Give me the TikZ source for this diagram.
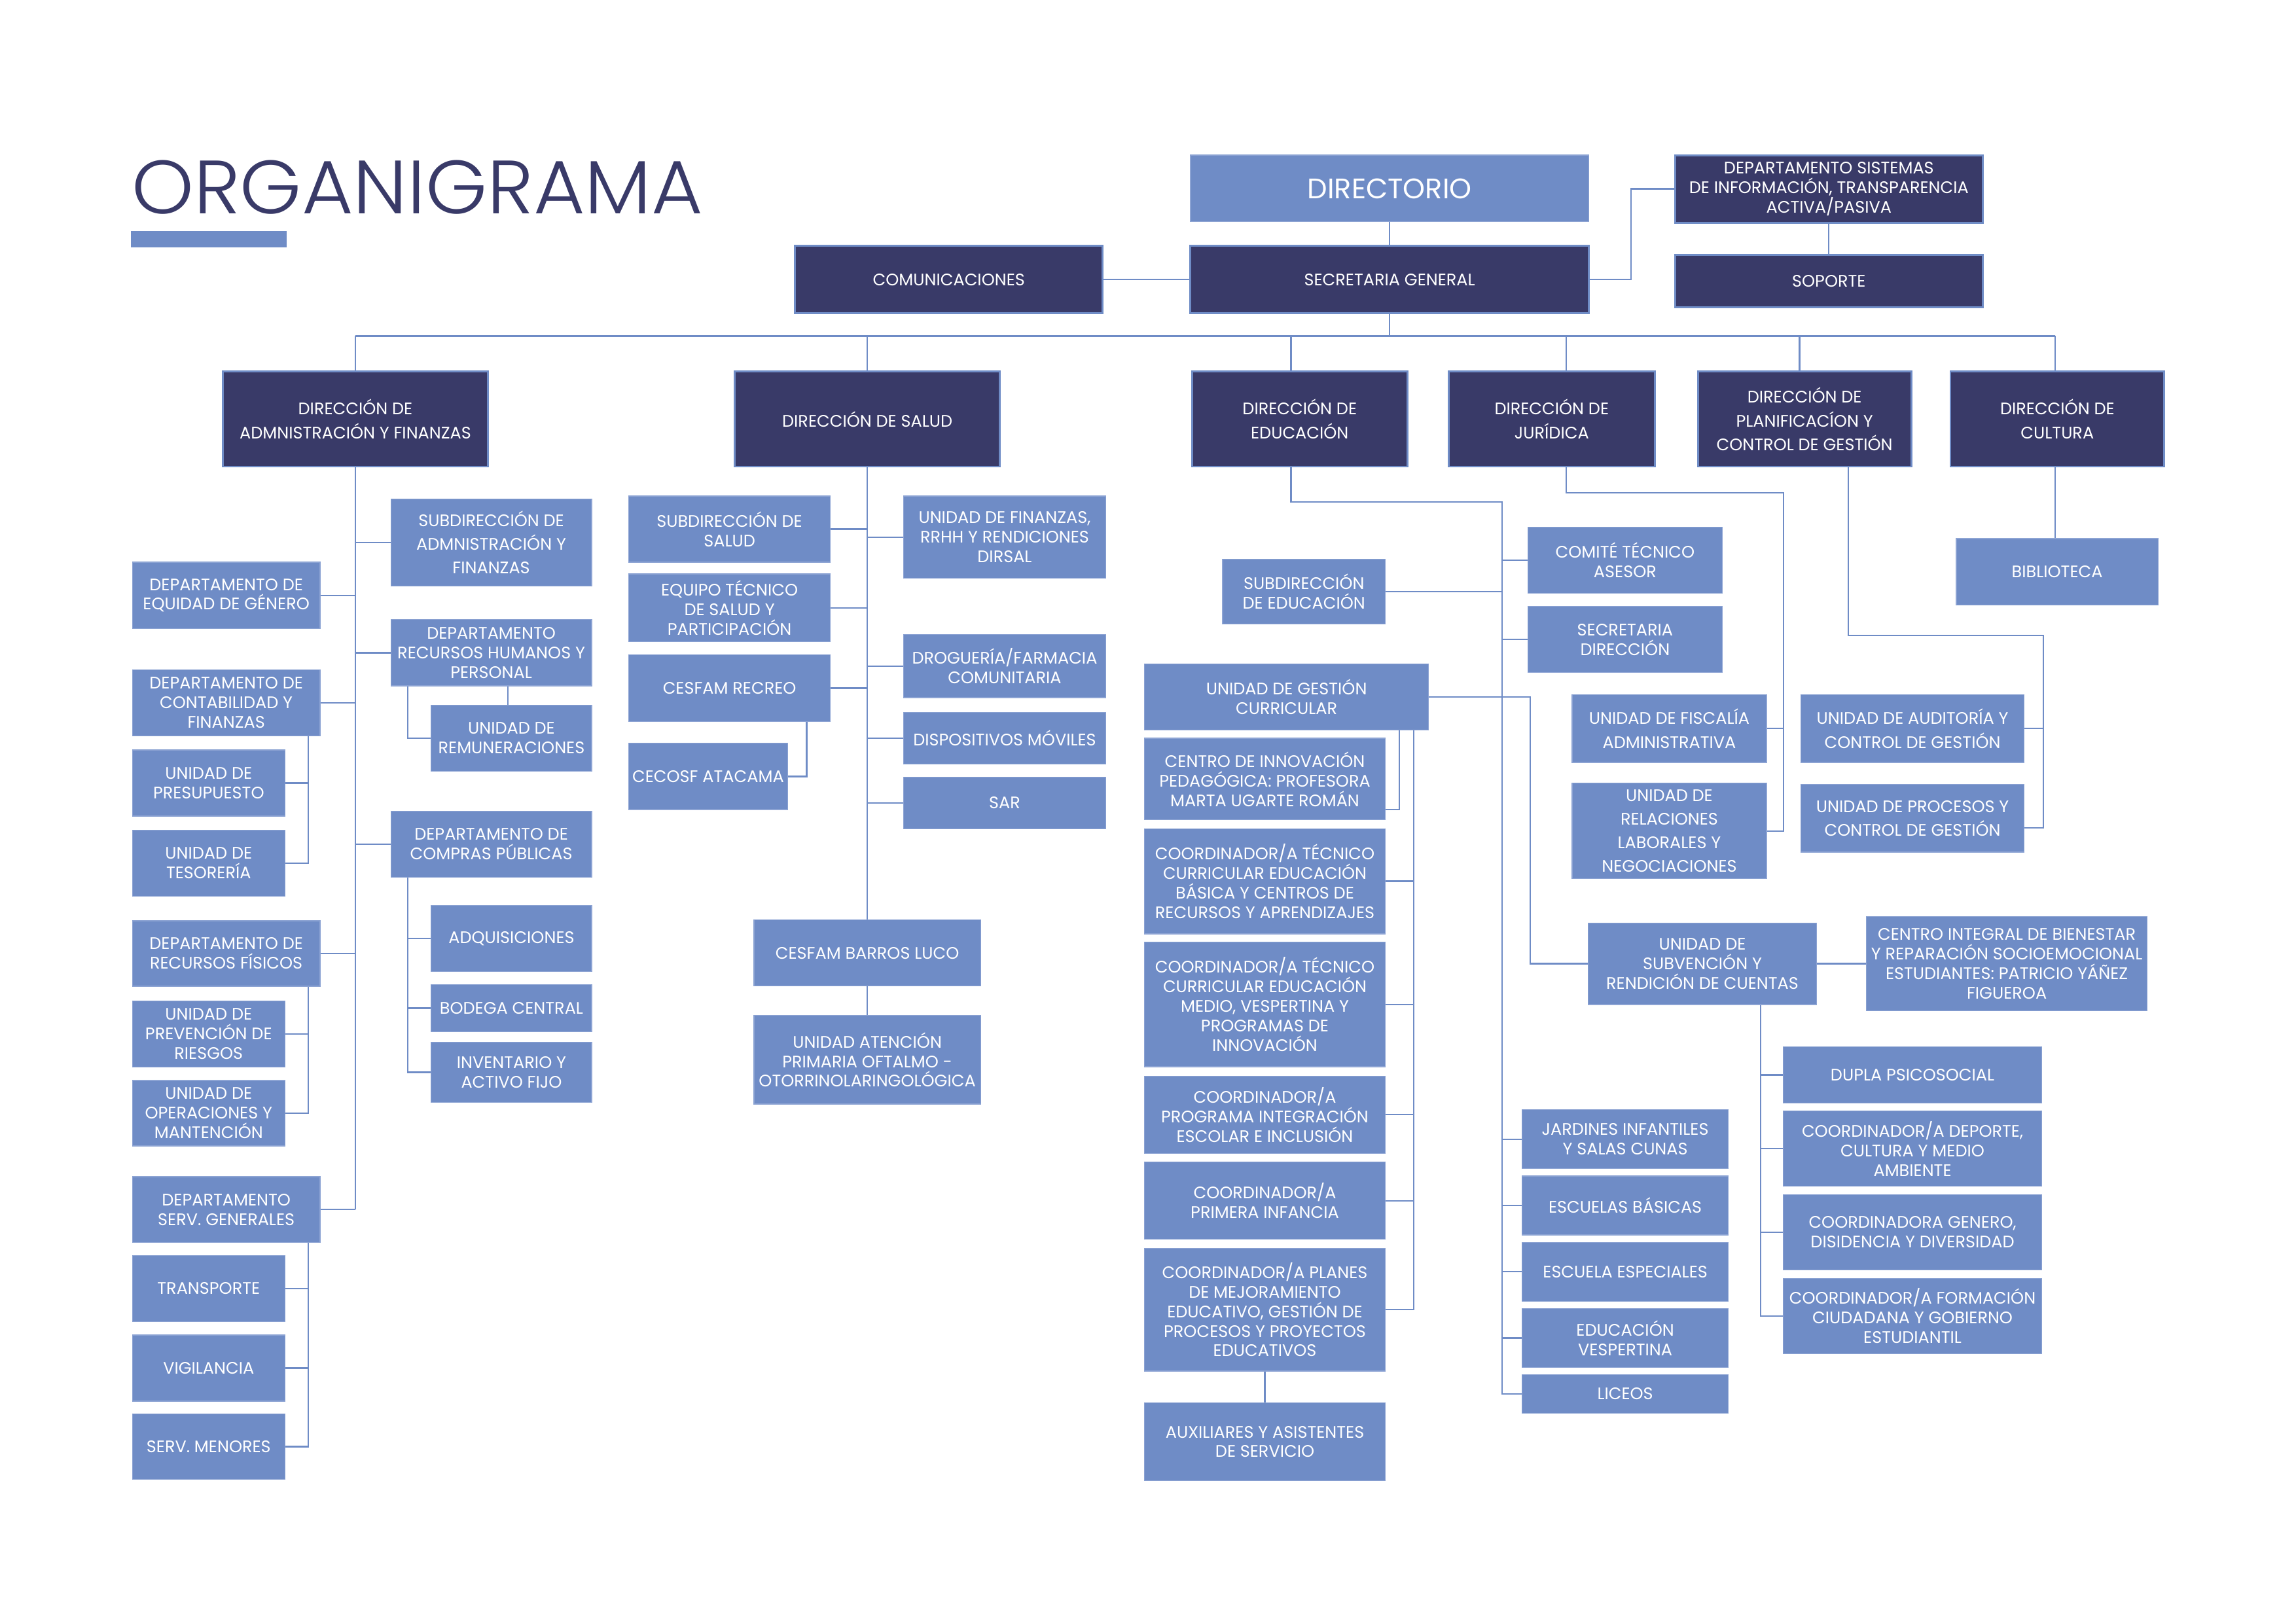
\documentclass[tikz,border=0pt]{standalone}
\usepackage{fontspec}
\setmainfont{Poppins}
\newfontfamily\orgtitlefont{Poppins Light}
\usetikzlibrary{calc}
\definecolor{navy}{HTML}{393A68}
\definecolor{lb}{HTML}{6F8CC6}
\definecolor{lbline}{HTML}{8CA3D3}
\def\U{0.18942mm}
\newcommand\bxf{\fontsize{6.15}{7.2}\selectfont}
\newcommand\bxw{\fontsize{6.15}{8.7}\selectfont}
\begin{document}
\begin{tikzpicture}[x=\U, y=-\U,
  base/.style={rectangle, inner sep=0pt, align=center, text=white, font=\bxf},
  dbox/.style={base, fill=navy, draw=lb, line width=0.7pt},
  lbox/.style={base, fill=lb, draw=lbline, line width=0.3pt},
  wide/.style={font=\bxw},
  sz/.style 2 args={minimum width=#1*\U, minimum height=#2*\U},
  conn/.style={draw=lb, line width=0.55pt}]
\useasboundingbox (0,0) rectangle (1568,1108.5);

% title
\node[anchor=base west, inner sep=0pt, text=navy, font=\orgtitlefont\fontsize{27.8}{30}\selectfont] (title) at (89.5,145.8) {\scalebox{1.045}[1]{ORGANIGRAMA}};
\node[fill=lb, inner sep=0pt, sz={106.1}{11.1}] (bar) at (142.55,163.35) {};

% top
\node[lbox, sz={272}{45.5}, font=\fontsize{10.4}{12}\selectfont] (dir) at (949,128.7) {DIRECTORIO};
\node[dbox, sz={272}{46}] (sec) at (949,191) {SECRETARIA GENERAL};
\node[dbox, sz={210}{46}] (com) at (648,191) {COMUNICACIONES};
\node[dbox, sz={210}{46}] (sis) at (1249,129) {DEPARTAMENTO SISTEMAS\\DE INFORMACIÓN, TRANSPARENCIA\\ACTIVA/PASIVA};
\node[dbox, sz={210}{36}] (sop) at (1249,192) {SOPORTE};

% direcciones
\node[dbox, wide, sz={180.7}{65}] (adm) at (242.7,286.2) {DIRECCIÓN DE\\ADMNISTRACIÓN Y FINANZAS};
\node[dbox, sz={181}{65}] (sal) at (592.3,286.2) {DIRECCIÓN DE SALUD};
\node[dbox, wide, sz={147}{65}] (edu) at (887.6,286.2) {DIRECCIÓN DE\\EDUCACIÓN};
\node[dbox, wide, sz={141}{65}] (jur) at (1059.7,286.2) {DIRECCIÓN DE\\JURÍDICA};
\node[dbox, wide, sz={145.7}{65}] (pla) at (1232.4,286.2) {DIRECCIÓN DE\\PLANIFICACÍON Y\\CONTROL DE GESTIÓN};
\node[dbox, wide, sz={146}{65}] (cul) at (1405,286.2) {DIRECCIÓN DE\\CULTURA};

% administracion
\node[lbox, wide, sz={137.2}{59.3}] (sadm) at (335.5,370.5) {SUBDIRECCIÓN DE\\ADMNISTRACIÓN Y\\FINANZAS};
\node[lbox, sz={128.1}{45.3}] (equ) at (154.5,406.6) {DEPARTAMENTO DE\\EQUIDAD DE GÉNERO};
\node[lbox, sz={137.2}{45.3}] (rrhh) at (335.5,445.8) {DEPARTAMENTO\\RECURSOS HUMANOS Y\\PERSONAL};
\node[lbox, sz={109.6}{45.3}] (rem) at (349.3,504.1) {UNIDAD DE\\REMUNERACIONES};
\node[lbox, sz={128.1}{45.2}] (cont) at (154.5,480) {DEPARTAMENTO DE\\CONTABILIDAD Y\\FINANZAS};
\node[lbox, sz={104}{45.2}] (pre) at (142.5,534.8) {UNIDAD DE\\PRESUPUESTO};
\node[lbox, sz={104}{45.2}] (tes) at (142.5,589.6) {UNIDAD DE\\TESORERÍA};
\node[lbox, sz={137.2}{45.2}] (comp) at (335.5,576.5) {DEPARTAMENTO DE\\COMPRAS PÚBLICAS};
\node[lbox, sz={109.6}{45.3}] (adq) at (349.3,640.9) {ADQUISICIONES};
\node[lbox, sz={109.6}{32.2}] (bod) at (349.3,688.6) {BODEGA CENTRAL};
\node[lbox, sz={109.6}{41.3}] (inv) at (349.3,732.4) {INVENTARIO Y\\ACTIVO FIJO};
\node[lbox, sz={128.1}{44.7}] (rf) at (154.5,651.2) {DEPARTAMENTO DE\\RECURSOS FÍSICOS};
\node[lbox, sz={104}{45.2}] (prev) at (142.5,706.2) {UNIDAD DE\\PREVENCIÓN DE\\RIESGOS};
\node[lbox, sz={104}{44.7}] (ope) at (142.5,760.3) {UNIDAD DE\\OPERACIONES Y\\MANTENCIÓN};
\node[lbox, sz={128.1}{44.8}] (sg) at (154.5,826.1) {DEPARTAMENTO\\SERV. GENERALES};
\node[lbox, sz={104}{45.2}] (tra) at (142.5,880.1) {TRANSPORTE};
\node[lbox, sz={104}{45.2}] (vig) at (142.5,934.4) {VIGILANCIA};
\node[lbox, sz={104}{44.7}] (sm) at (142.5,988) {SERV. MENORES};

% salud
\node[lbox, sz={137.7}{45.2}] (ssal) at (498.2,361.4) {SUBDIRECCIÓN DE\\SALUD};
\node[lbox, sz={137.7}{46.3}] (eq) at (498.2,415.2) {EQUIPO TÉCNICO\\DE SALUD Y\\PARTICIPACIÓN};
\node[lbox, sz={137.7}{45.3}] (rec) at (498.2,470) {CESFAM RECREO};
\node[lbox, sz={108.5}{45.2}] (cec) at (483.6,530.3) {CECOSF ATACAMA};
\node[lbox, sz={137.8}{56.2}] (fin) at (686.1,366.9) {UNIDAD DE FINANZAS,\\RRHH Y RENDICIONES\\DIRSAL};
\node[lbox, sz={137.8}{43.2}] (dro) at (686.1,454.9) {DROGUERÍA/FARMACIA\\COMUNITARIA};
\node[lbox, sz={137.8}{35.1}] (dis) at (686.1,504.2) {DISPOSITIVOS MÓVILES};
\node[lbox, sz={137.8}{35.2}] (sar) at (686.1,548.4) {SAR};
\node[lbox, sz={154.8}{45.2}] (bl) at (592.3,650.9) {CESFAM BARROS LUCO};
\node[lbox, sz={154.8}{60.4}] (oft) at (592.3,723.8) {UNIDAD ATENCIÓN\\PRIMARIA OFTALMO -\\OTORRINOLARINGOLÓGICA};

% educacion
\node[lbox, sz={132.7}{45.2}] (cta) at (1109.8,382.5) {COMITÉ TÉCNICO\\ASESOR};
\node[lbox, sz={111}{44.2}] (sedu) at (890.5,404.1) {SUBDIRECCIÓN\\DE EDUCACIÓN};
\node[lbox, sz={132.7}{45.2}] (sdir) at (1109.8,436.8) {SECRETARIA\\DIRECCIÓN};
\node[lbox, sz={194}{45.2}] (ugc) at (878.6,476) {UNIDAD DE GESTIÓN\\CURRICULAR};
\node[lbox, sz={164.4}{55.8}] (cip) at (863.8,532.1) {CENTRO DE INNOVACIÓN\\PEDAGÓGICA: PROFESORA\\MARTA UGARTE ROMÁN};
\node[lbox, sz={164.4}{71.8}] (cb) at (863.8,601.9) {COORDINADOR/A TÉCNICO\\CURRICULAR EDUCACIÓN\\BÁSICA Y CENTROS DE\\RECURSOS Y APRENDIZAJES};
\node[lbox, sz={164.4}{85.2}] (cm) at (863.8,686) {COORDINADOR/A TÉCNICO\\CURRICULAR EDUCACIÓN\\MEDIO, VESPERTINA Y\\PROGRAMAS DE\\INNOVACIÓN};
\node[lbox, sz={164.4}{52.7}] (pie) at (863.8,761.3) {COORDINADOR/A\\PROGRAMA INTEGRACIÓN\\ESCOLAR E INCLUSIÓN};
\node[lbox, sz={164.4}{52.7}] (pi) at (863.8,820.1) {COORDINADOR/A\\PRIMERA INFANCIA};
\node[lbox, sz={164.4}{83.9}] (pm) at (863.8,894.5) {COORDINADOR/A PLANES\\DE MEJORAMIENTO\\EDUCATIVO, GESTIÓN DE\\PROCESOS Y PROYECTOS\\EDUCATIVOS};
\node[lbox, sz={164.4}{53.3}] (aux) at (863.8,984.7) {AUXILIARES Y ASISTENTES\\DE SERVICIO};
\node[lbox, sz={140.7}{40.2}] (jar) at (1109.9,778.1) {JARDINES INFANTILES\\Y SALAS CUNAS};
\node[lbox, sz={140.7}{40.2}] (eb) at (1109.9,823.3) {ESCUELAS BÁSICAS};
\node[lbox, sz={140.7}{40.2}] (ee) at (1109.9,868.6) {ESCUELA ESPECIALES};
\node[lbox, sz={140.7}{40.2}] (ev) at (1109.9,913.8) {EDUCACIÓN\\VESPERTINA};
\node[lbox, sz={140.7}{26.2}] (lic) at (1109.9,952) {LICEOS};

% juridica
\node[lbox, wide, sz={132.7}{46.2}] (fis) at (1140,497.6) {UNIDAD DE FISCALÍA\\ADMINISTRATIVA};
\node[lbox, wide, sz={132.7}{65.3}] (rel) at (1140,567.5) {UNIDAD DE\\RELACIONES\\LABORALES Y\\NEGOCIACIONES};

% planificacion
\node[lbox, wide, sz={152.2}{46.2}] (aud) at (1306.1,497.6) {UNIDAD DE AUDITORÍA Y\\CONTROL DE GESTIÓN};
\node[lbox, wide, sz={152.2}{46.2}] (proc) at (1306.1,558.9) {UNIDAD DE PROCESOS Y\\CONTROL DE GESTIÓN};

% cultura
\node[lbox, sz={137.7}{45.3}] (bib) at (1404.9,390.5) {BIBLIOTECA};

% subvencion
\node[lbox, sz={155.8}{55.8}] (sub) at (1162.6,658.2) {UNIDAD DE\\SUBVENCIÓN Y\\RENDICIÓN DE CUENTAS};
\node[lbox, sz={191.6}{64.1}] (cib) at (1370.5,658.2) {CENTRO INTEGRAL DE BIENESTAR\\Y REPARACIÓN SOCIOEMOCIONAL\\ESTUDIANTES: PATRICIO YÁÑEZ\\FIGUEROA};
\node[lbox, sz={176.4}{38.4}] (dup) at (1306.1,734.1) {DUPLA PSICOSOCIAL};
\node[lbox, sz={176.4}{51.3}] (dep) at (1306.1,784.5) {COORDINADOR/A DEPORTE,\\CULTURA Y MEDIO\\AMBIENTE};
\node[lbox, sz={176.4}{51.3}] (gen) at (1306.1,841.6) {COORDINADORA GENERO,\\DISIDENCIA Y DIVERSIDAD};
\node[lbox, sz={176.4}{51.4}] (for) at (1306.1,898.8) {COORDINADOR/A FORMACIÓN\\CIUDADANA Y GOBIERNO\\ESTUDIANTIL};

% ---------- connectors ----------
\coordinate (j1) at (1114,191);
\coordinate (busL) at (242.7,229.5);
\coordinate (busR) at (1403.4,229.5);
\coordinate (eduTop) at (881.7,254);
\coordinate (jurTop) at (1069.6,254);
\coordinate (plaTop) at (1229,254);
\coordinate (culTop) at (1403.4,254);
\draw[conn] (dir) -- (sec);
\draw[conn] (com) -- (sec);
\draw[conn] (sec.east) -- (j1) |- (sis.west);
\draw[conn] (sis) -- (sop);
\draw[conn] (busL) -- (busR);
\draw[conn] (sec.south) -- (sec.south |- busL);
\draw[conn] (adm.north) -- (adm.north |- busL);
\draw[conn] (sal.north) -- (sal.north |- busL);
\draw[conn] (eduTop) -- (eduTop |- busL);
\draw[conn] (jurTop) -- (jurTop |- busL);
\draw[conn] (plaTop) -- (plaTop |- busL);
\draw[conn] (culTop) -- (culTop |- busL);

% administracion
\coordinate (cvx) at (210.6,0);
\coordinate (rvx) at (278.5,0);
\coordinate (rrx) at (346.8,0);
\draw[conn] (adm.south) -- (adm.south |- sg.east);
\foreach \n in {equ,cont,rf,sg} \draw[conn] (\n.east) -- (\n.east -| adm.south);
\foreach \n in {sadm,rrhh,comp} \draw[conn] (\n.west) -- (\n.west -| adm.south);
\draw[conn] (cvx |- cont.south) -- (cvx |- tes.east) -- (tes.east);
\draw[conn] (pre.east) -- (pre.east -| cvx);
\draw[conn] (cvx |- rf.south) -- (cvx |- ope.east) -- (ope.east);
\draw[conn] (prev.east) -- (prev.east -| cvx);
\draw[conn] (cvx |- sg.south) -- (cvx |- sm.east) -- (sm.east);
\foreach \n in {tra,vig} \draw[conn] (\n.east) -- (\n.east -| cvx);
\draw[conn] (rvx |- rrhh.south) -- (rvx |- rem.west) -- (rem.west);
\draw[conn] (rrx |- rrhh.south) -- (rrx |- rem.north);
\draw[conn] (rvx |- comp.south) -- (rvx |- inv.west) -- (inv.west);
\foreach \n in {adq,bod} \draw[conn] (\n.west) -- (\n.west -| rvx);

% salud
\coordinate (ccx) at (550.9,0);
\draw[conn] (sal.south) -- (bl.north);
\foreach \n in {ssal,eq,rec} \draw[conn] (\n.east) -- (\n.east -| sal.south);
\foreach \n in {fin,dro,dis,sar} \draw[conn] (\n.west) -- (\n.west -| sal.south);
\draw[conn] (ccx |- rec.south) -- (ccx |- cec.east) -- (cec.east);
\draw[conn] (bl) -- (oft);

% educacion
\coordinate (e1) at (881.7,342.8);
\coordinate (evx) at (1025.9,342.8);
\coordinate (ux) at (1045.1,0);
\coordinate (c1) at (955.7,552.9);
\coordinate (c2) at (965.4,0);
\draw[conn] (e1 |- edu.south) -- (e1) -- (evx) -- (evx |- lic.west) -- (lic.west);
\draw[conn] (sedu.east) -- (sedu.east -| evx);
\foreach \n in {cta,sdir,jar,eb,ee,ev} \draw[conn] (\n.west) -- (\n.west -| evx);
\draw[conn] (ugc.east) -- (ugc.east -| ux) -- (ux |- sub.west) -- (sub.west);
\draw[conn] (c1 |- ugc.south) -- (c1) -- (c1 -| cip.east);
\draw[conn] (c2 |- ugc.south) -- (c2 |- pm.east) -- (pm.east);
\foreach \n in {cb,cm,pie,pi} \draw[conn] (\n.east) -- (\n.east -| c2);
\draw[conn] (pm) -- (aux);

% juridica
\coordinate (j2) at (1069.6,336.5);
\coordinate (jvx) at (1218.1,336.5);
\draw[conn] (j2 |- jur.south) -- (j2) -- (jvx) -- (jvx |- rel.east) -- (rel.east);
\draw[conn] (fis.east) -- (fis.east -| jvx);

% planificacion
\coordinate (p1) at (1262.3,434.1);
\coordinate (pvx) at (1395.3,434.1);
\coordinate (pj) at (1395.3,565.5);
\draw[conn] (p1 |- pla.south) -- (p1) -- (pvx) -- (pj) -- (pj -| proc.east);
\draw[conn] (aud.east) -- (aud.east -| pvx);

% cultura
\draw[conn] (culTop |- cul.south) -- (culTop |- bib.north);

% subvencion
\coordinate (svx) at (1202.3,0);
\draw[conn] (sub) -- (cib);
\draw[conn] (svx |- sub.south) -- (svx |- for.west) -- (for.west);
\foreach \n in {dup,dep,gen} \draw[conn] (\n.west) -- (\n.west -| svx);
\end{tikzpicture}
\end{document}
